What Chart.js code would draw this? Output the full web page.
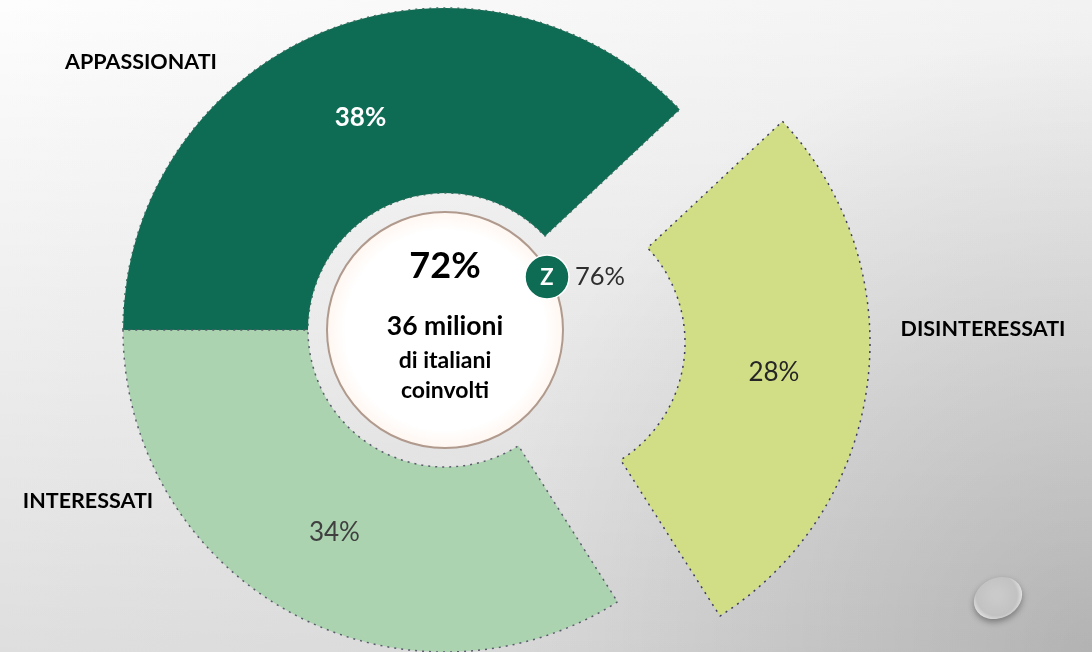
<!DOCTYPE html>
<html>
<head>
<meta charset="utf-8">
<script src="https://cdn.jsdelivr.net/npm/chart.js@4/dist/chart.umd.js"></script>
<style>
  html, body { margin: 0; padding: 0; width: 1092px; height: 652px; overflow: hidden; }
  body {
    background:
      radial-gradient(circle 620px at 1092px 652px, rgba(0,0,0,.16), rgba(0,0,0,0)),
      linear-gradient(to bottom, rgba(0,0,0,0), rgba(0,0,0,.12)),
      linear-gradient(to right, #fdfdfd, #f2f2f2);
  }
  canvas { position: absolute; left: 0; top: 0; display: block; }
</style>
</head>
<body>
<canvas id="chart" width="1092" height="652"></canvas>
<script>
const categories = ['APPASSIONATI', 'DISINTERESSATI', 'INTERESSATI'];
const values = [38, 28, 34];
const sliceColors = ['#0e6b54', '#d2de86', '#abd3b0'];
const edgeColors = ['#3f6f60', '#3c3c5c', '#5a5a6a'];
// Chart.js sposta l'arco di offset/4
const sliceOffsets = [0, 408, 0];
const valueLabelColors = ['#ffffff', '#262626', '#404040'];
const valueLabelFonts = ['bold 26px Lato', '26px Lato', '26px Lato'];

const font = 'Lato, Carlito, sans-serif';

// testo e decorazioni disegnati sopra il grafico
const overlay = {
  id: 'overlay',
  afterDraw(chart) {
    const { ctx } = chart;
    const arcs = chart.getDatasetMeta(0).data;
    const cx = arcs[0].x;
    const cy = arcs[0].y;

    function text(str, x, y, f, color) {
      ctx.font = f;
      ctx.fillStyle = color;
      ctx.textAlign = 'center';
      ctx.textBaseline = 'middle';
      ctx.fillText(str, x, y);
    }

    ctx.save();

    // percentuali al centro di ogni fetta
    arcs.forEach((arc, i) => {
      const mid = (arc.startAngle + arc.endAngle) / 2;
      const r = (arc.innerRadius + arc.outerRadius) / 2 + sliceOffsets[i] / 4;
      text(values[i] + '%', cx + Math.cos(mid) * r, cy + Math.sin(mid) * r + 1, valueLabelFonts[i], valueLabelColors[i]);
    });

    // nomi delle categorie
    text(categories[0], 141, 62, 'bold 21.5px ' + font, '#000');
    text(categories[1], 983, 329, 'bold 21.5px ' + font, '#000');
    text(categories[2], 88, 501, 'bold 21.5px ' + font, '#000');

    // cerchio centrale
    const glow = ctx.createRadialGradient(cx, cy, 100, cx, cy, 118);
    glow.addColorStop(0, '#ffffff');
    glow.addColorStop(1, '#fff6f0');
    ctx.beginPath();
    ctx.arc(cx, cy, 118, 0, Math.PI * 2);
    ctx.fillStyle = glow;
    ctx.fill();
    ctx.lineWidth = 2;
    ctx.strokeStyle = '#b09a8e';
    ctx.stroke();

    text('72%', 445, 266, 'bold 36px ' + font, '#000');
    text('36 milioni', 445, 326, 'bold 26.5px ' + font, '#000');
    text('di italiani', 445, 361, 'bold 23px ' + font, '#000');
    text('coinvolti', 445, 391, 'bold 23px ' + font, '#000');

    // badge Z
    ctx.beginPath();
    ctx.arc(547, 277, 22, 0, Math.PI * 2);
    ctx.fillStyle = '#0e6b54';
    ctx.fill();
    ctx.lineWidth = 1.5;
    ctx.strokeStyle = '#ffffff';
    ctx.stroke();
    text('Z', 547, 278, 'bold 22px ' + font, '#fff');
    text('76%', 600, 277, '25.5px ' + font, '#2e2e2e');

    // goccia in basso a destra
    ctx.translate(998, 598);
    ctx.rotate(-0.45);
    ctx.shadowColor = 'rgba(0,0,0,0.35)';
    ctx.shadowBlur = 6;
    ctx.shadowOffsetY = 3;
    ctx.beginPath();
    ctx.ellipse(0, 0, 25, 20, 0, 0, Math.PI * 2);
    const drop = ctx.createRadialGradient(0, -3, 4, 0, -3, 26);
    drop.addColorStop(0, '#cacaca');
    drop.addColorStop(0.75, '#c2c2c2');
    drop.addColorStop(0.92, '#d8d8d8');
    drop.addColorStop(1, '#eeeeee');
    ctx.fillStyle = drop;
    ctx.fill();
    ctx.restore();
  }
};

new Chart(document.getElementById('chart'), {
  type: 'doughnut',
  data: {
    labels: categories,
    datasets: [{
      data: values,
      backgroundColor: sliceColors,
      borderColor: edgeColors,
      borderWidth: 1.5,
      borderDash: [2, 5],
      borderAlign: 'center',
      offset: sliceOffsets,
      hoverOffset: 0
    }]
  },
  options: {
    responsive: false,
    animation: false,
    rotation: -90,
    radius: 322,
    cutout: '42.55%',
    layout: { padding: { right: 202, top: 8 } },
    plugins: { legend: { display: false }, tooltip: { enabled: false } }
  },
  plugins: [overlay]
});
</script>
</body>
</html>
